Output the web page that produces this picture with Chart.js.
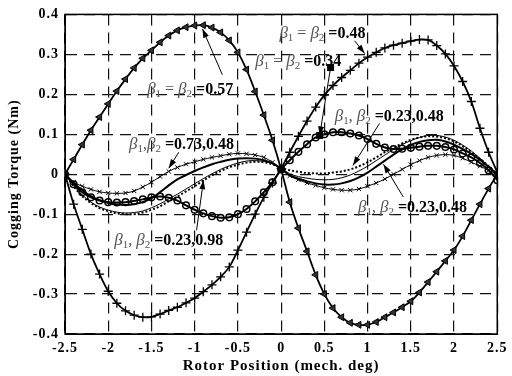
<!DOCTYPE html>
<html>
<head>
<meta charset="utf-8">
<script src="https://cdn.jsdelivr.net/npm/chart.js"></script>
<style>
  body { margin: 0; background: #fff; }
  #wrap { width: 512px; height: 376px; }
</style>
</head>
<body>
<div id="wrap"><canvas id="cogging" width="512" height="376"></canvas></div>
<script>
// rotor position (mech. deg)
var positions = [-2.5, -2.4, -2.3, -2.2, -2.1, -2.0, -1.9, -1.8, -1.7, -1.6, -1.5, -1.4, -1.3, -1.2, -1.1, -1.0,
  -0.9, -0.8, -0.7, -0.6, -0.5, -0.4, -0.3, -0.2, -0.1, 0, 0.1, 0.2, 0.3, 0.4, 0.5, 0.6, 0.7, 0.8, 0.9, 1.0,
  1.1, 1.2, 1.3, 1.4, 1.5, 1.6, 1.7, 1.8, 1.9, 2.0, 2.1, 2.2, 2.3, 2.4, 2.5];

// cogging torque (Nm)
var torque057 = [0, 0.037, 0.074, 0.11, 0.143, 0.176, 0.208, 0.238, 0.266, 0.29, 0.31, 0.33, 0.347, 0.36, 0.368, 0.372,
  0.373, 0.367, 0.355, 0.335, 0.305, 0.262, 0.207, 0.148, 0.085, 0.012, -0.07, -0.135, -0.193, -0.252, -0.3,
  -0.335, -0.358, -0.372, -0.377, -0.377, -0.37, -0.358, -0.346, -0.333, -0.318, -0.296, -0.27, -0.244, -0.217,
  -0.19, -0.155, -0.115, -0.075, -0.036, 0];
var torque048 = [0, -0.075, -0.138, -0.2, -0.25, -0.293, -0.323, -0.342, -0.353, -0.358, -0.357, -0.35, -0.341, -0.333,
  -0.322, -0.31, -0.294, -0.277, -0.257, -0.232, -0.19, -0.145, -0.1, -0.058, -0.022, 0.014, 0.055, 0.095, 0.133,
  0.168, 0.198, 0.222, 0.242, 0.26, 0.278, 0.293, 0.305, 0.316, 0.323, 0.328, 0.333, 0.337, 0.336, 0.322, 0.301,
  0.271, 0.232, 0.182, 0.115, 0.055, 0.005];
var torque034 = [0, -0.025, -0.045, -0.058, -0.066, -0.07, -0.071, -0.07, -0.067, -0.063, -0.058, -0.056, -0.059,
  -0.066, -0.078, -0.089, -0.098, -0.105, -0.109, -0.108, -0.1, -0.087, -0.068, -0.045, -0.02, 0.012, 0.035, 0.056,
  0.075, 0.092, 0.1, 0.105, 0.105, 0.102, 0.097, 0.088, 0.076, 0.067, 0.063, 0.064, 0.066, 0.069, 0.071, 0.071,
  0.068, 0.062, 0.052, 0.042, 0.028, 0.01, -0.015];
var torque073_048 = [0, -0.02, -0.03, -0.038, -0.044, -0.047, -0.048, -0.047, -0.042, -0.032, -0.02, -0.006, 0.007,
  0.017, 0.025, 0.031, 0.037, 0.042, 0.046, 0.05, 0.052, 0.051, 0.048, 0.042, 0.03, 0.014, -0.004, -0.014, -0.022,
  -0.028, -0.034, -0.038, -0.04, -0.04, -0.037, -0.03, -0.022, -0.012, 0, 0.012, 0.024, 0.034, 0.042, 0.047, 0.049,
  0.047, 0.04, 0.03, 0.02, 0.01, 0];
var torqueSolid = [0, -0.022, -0.04, -0.055, -0.065, -0.072, -0.076, -0.077, -0.075, -0.07, -0.06, -0.045, -0.028,
  -0.013, -0.002, 0.008, 0.017, 0.025, 0.031, 0.036, 0.039, 0.04, 0.039, 0.035, 0.027, 0.014, -0.003, -0.011, -0.018,
  -0.023, -0.026, -0.026, -0.023, -0.017, -0.008, 0.004, 0.019, 0.034, 0.049, 0.062, 0.073, 0.081, 0.085, 0.086,
  0.082, 0.074, 0.063, 0.051, 0.036, 0.018, 0];
var torqueDotted = [0, -0.03, -0.055, -0.072, -0.085, -0.093, -0.098, -0.1, -0.1, -0.096, -0.089, -0.08, -0.068,
  -0.056, -0.043, -0.03, -0.016, -0.003, 0.008, 0.017, 0.024, 0.029, 0.031, 0.03, 0.025, 0.015, 0.01, 0.006, 0.003,
  0.002, 0.002, 0.004, 0.007, 0.012, 0.02, 0.03, 0.042, 0.055, 0.066, 0.077, 0.086, 0.092, 0.095, 0.094, 0.09, 0.082,
  0.07, 0.055, 0.038, 0.02, 0];
var torqueThin = [0, -0.028, -0.052, -0.07, -0.082, -0.09, -0.095, -0.097, -0.096, -0.092, -0.084, -0.074, -0.062,
  -0.05, -0.037, -0.024, -0.011, 0.001, 0.012, 0.021, 0.028, 0.033, 0.034, 0.032, 0.026, 0.015, 0.001, -0.006, -0.01,
  -0.013, -0.014, -0.013, -0.009, -0.002, 0.008, 0.02, 0.034, 0.048, 0.062, 0.074, 0.084, 0.092, 0.097, 0.097, 0.093,
  0.085, 0.073, 0.058, 0.04, 0.02, 0];

// annotation labels: [separator, value, label x, label y, arrow from x, y, arrow to x, y, squares]
var notes = [
  [' = ', '0.57', -1.55, 0.2, -0.68, 0.249, -0.91, 0.364, false],
  [' = ', '0.48', -0.02, 0.341, 0.85, 0.334, 0.967, 0.302, false],
  [' = ', '0.34', -0.3, 0.272, 0.572, 0.267, 0.446, 0.097, true],
  [', ', '0.23,0.48', 0.62, 0.132, 1.138, 0.127, 0.83, 0.022, false],
  [',', '0.73,0.48', -1.76, 0.062, -1.184, 0.055, -1.3, 0.015, false],
  [', ', '0.23,0.98', -1.93, -0.177, -0.978, -0.14, -0.898, -0.015, false],
  [', ', '0.23,0.48', 0.89, -0.095, 1.413, -0.057, 1.184, 0.025, false]
];

function pts(vals) {
  return positions.map(function(p, i) { return {x: p, y: vals[i]}; });
}

var serif = 'Liberation Serif, Times New Roman, serif';

var framePlugin = {
  id: 'frame',
  beforeDraw: function(chart) {
    chart.ctx.letterSpacing = '1px';
  },
  beforeDatasetsDraw: function(chart) {
    chart.ctx.letterSpacing = '0px';
  },
  afterDraw: function(chart) {
    var ctx = chart.ctx, a = chart.chartArea;
    var xs = chart.scales.x, ys = chart.scales.y;
    ctx.save();
    ctx.letterSpacing = '0px';
    ctx.setLineDash([]);
    ctx.strokeStyle = '#000';
    ctx.lineWidth = 1.5;
    ctx.strokeRect(a.left, a.top, a.right - a.left, a.bottom - a.top);

    notes.forEach(function(n) {
      var px = xs.getPixelForValue(n[2]), py = ys.getPixelForValue(n[3]);
      var parts = [
        ['\u03b2', 'italic 17px ' + serif, '#555', 0],
        ['1', '11px ' + serif, '#555', 3],
        [n[0], '16px ' + serif, '#555', 0],
        ['\u03b2', 'italic 17px ' + serif, '#555', 0],
        ['2', '11px ' + serif, '#555', 3],
        [' =', 'bold 16px ' + serif, '#000', 0],
        [n[1], 'bold 16px ' + serif, '#000', 0]
      ];
      parts.forEach(function(p) {
        ctx.font = p[1];
        ctx.fillStyle = p[2];
        ctx.fillText(p[0], px, py + p[3]);
        px += ctx.measureText(p[0]).width;
      });

      var x1 = xs.getPixelForValue(n[4]), y1 = ys.getPixelForValue(n[5]);
      var x2 = xs.getPixelForValue(n[6]), y2 = ys.getPixelForValue(n[7]);
      ctx.strokeStyle = '#000';
      ctx.fillStyle = '#000';
      ctx.lineWidth = 1;
      ctx.beginPath();
      ctx.moveTo(x1, y1);
      ctx.lineTo(x2, y2);
      ctx.stroke();
      var ang = Math.atan2(y2 - y1, x2 - x1);
      ctx.beginPath();
      ctx.moveTo(x2, y2);
      ctx.lineTo(x2 - 9 * Math.cos(ang) + 3 * Math.sin(ang), y2 - 9 * Math.sin(ang) - 3 * Math.cos(ang));
      ctx.lineTo(x2 - 9 * Math.cos(ang) - 3 * Math.sin(ang), y2 - 9 * Math.sin(ang) + 3 * Math.cos(ang));
      ctx.closePath();
      ctx.fill();
      if (n[8]) {
        ctx.fillRect(x1 - 3.5, y1 - 3.5, 7, 7);
        ctx.fillRect(x2 - 3.5, y2 - 3.5, 7, 7);
      }
    });
    ctx.restore();
  }
};

var line = function(vals, extra) {
  var ds = {
    data: pts(vals),
    borderColor: '#000',
    borderWidth: 1.8,
    pointRadius: 0,
    pointBorderColor: '#000',
    pointBackgroundColor: 'transparent',
    tension: 0.35,
    fill: false
  };
  for (var k in extra) ds[k] = extra[k];
  return ds;
};

var gridOpts = { display: true, drawOnChartArea: true, color: '#111', lineWidth: 1.2, drawTicks: false };
var borderOpts = { display: true, color: '#000', width: 1, dash: [11, 7] };

new Chart(document.getElementById('cogging'), {
  type: 'line',
  data: {
    datasets: [
      line(torqueThin, {borderWidth: 1}),
      line(torqueDotted, {borderWidth: 2, borderDash: [2, 2]}),
      line(torqueSolid, {borderWidth: 2}),
      line(torque073_048, {borderWidth: 1, pointStyle: 'crossRot', pointRadius: 3, pointBorderWidth: 1}),
      line(torque034, {borderWidth: 2, pointStyle: 'circle', pointRadius: 3.3, pointBorderWidth: 1.5}),
      line(torque048, {borderWidth: 1.8, pointStyle: 'cross', pointRadius: 4.5, pointBorderWidth: 1.3}),
      line(torque057, {borderWidth: 1.8, pointStyle: 'triangle', pointRotation: 270, pointRadius: 4,
        pointBorderWidth: 1, pointBackgroundColor: '#333'})
    ]
  },
  options: {
    responsive: false,
    animation: false,
    events: [],
    layout: { padding: { left: 0, right: 10, top: 13, bottom: 0 } },
    plugins: { legend: { display: false }, tooltip: { enabled: false } },
    scales: {
      x: {
        type: 'linear',
        min: -2.5,
        max: 2.5,
        afterFit: function(s) { s.height = 42; },
        border: borderOpts,
        grid: gridOpts,
        ticks: {
          stepSize: 0.5,
          autoSkip: false,
          maxRotation: 0,
          padding: 6,
          color: '#000',
          font: { family: serif, weight: 'bold', size: 14 },
          callback: function(v) { return String(+v.toFixed(2)); }
        },
        title: {
          display: true,
          text: 'Rotor Position (mech. deg)',
          color: '#000',
          font: { family: serif, weight: 'bold', size: 15 },
          padding: { top: 0, bottom: 1 }
        }
      },
      y: {
        min: -0.4,
        max: 0.4,
        afterFit: function(s) { s.width = 65; },
        border: borderOpts,
        grid: gridOpts,
        ticks: {
          stepSize: 0.1,
          padding: 6,
          color: '#000',
          font: { family: serif, weight: 'bold', size: 14 },
          callback: function(v) { return String(+v.toFixed(2)); }
        },
        title: {
          display: true,
          text: 'Cogging Torque (Nm)',
          color: '#000',
          font: { family: serif, weight: 'bold', size: 14 },
          padding: { top: 6, bottom: 0 }
        }
      }
    }
  },
  plugins: [framePlugin]
});
</script>
</body>
</html>
